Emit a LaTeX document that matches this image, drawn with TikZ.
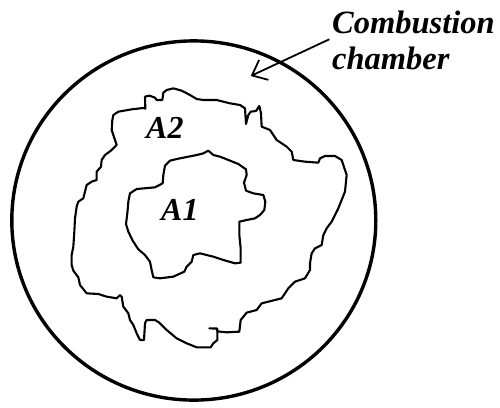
\documentclass[tikz,border=0pt]{standalone}
\usepackage{fontspec}
\setmainfont{Liberation Serif}
\usetikzlibrary{arrows.meta}
\tikzset{
  chamberline/.style={line width=3.4pt},
  flameline/.style={line width=2.1pt, line join=round, line cap=round},
  pointer/.style={line width=1.8pt, -{Straight Barb[length=13pt,width=22pt,line width=1.8pt]}},
  labeltext/.style={inner sep=0pt, font=\fontsize{32.5}{36}\selectfont\bfseries\itshape},
  areatext/.style={inner sep=0pt, font=\fontsize{32}{36}\selectfont\bfseries\itshape}
}
\begin{document}
\begin{tikzpicture}[x=1pt,y=-1pt]
\useasboundingbox (0,0) rectangle (500,407);
% combustion chamber wall
\draw[chamberline] (193.8,220.5) ellipse [x radius=182, y radius=179.6];
% flame fronts (traced in 3x coordinates)
\begin{scope}[x=0.33333pt,y=-0.33333pt]
\draw[flameline] (340,345) -- (355,335) -- (395,328) -- (430,324) -- (436,326) -- (435,290) -- (448,287) -- (465,293) -- (470,300) -- (487,300) -- (490,278) -- (500,270) -- (520,265) -- (545,272) -- (570,285) -- (590,297) -- (610,300) -- (650,300) -- (690,310) -- (720,315) -- (735,325) -- (738,372) -- (745,345) -- (752,335) -- (768,333) -- (778,318) -- (783,340) -- (785,380) -- (810,390) -- (830,420) -- (860,440) -- (875,455) -- (880,480) -- (915,485) -- (955,488) -- (960,475) -- (975,468) -- (1005,468) -- (1025,480) -- (1040,525) -- (1035,575) -- (1015,625) -- (995,665) -- (980,685) -- (970,705) -- (965,735) -- (945,745) -- (935,760) -- (930,790) -- (930,810) -- (915,835) -- (885,845) -- (865,865) -- (845,895) -- (825,900) -- (785,910) -- (770,930) -- (740,938) -- (722,960) -- (718,995) -- (680,997) -- (652,994) -- (650,985) -- (628,985) -- (652,986) -- (652,1020) -- (640,1030) -- (632,1042) -- (590,1042) -- (560,1030) -- (530,1015) -- (500,990) -- (478,968) -- (465,960) -- (440,960) -- (435,970) -- (432,1020) -- (420,1020) -- (410,1000) -- (400,975) -- (390,960) -- (385,940) -- (370,920) -- (365,890) -- (360,885) -- (350,895) -- (320,890) -- (295,882) -- (260,880) -- (240,855) -- (235,832) -- (220,812) -- (215,795) -- (215,765) -- (220,740) -- (223,695) -- (225,655) -- (230,620) -- (235,605) -- (250,595) -- (255,575) -- (260,555) -- (275,545) -- (290,540) -- (290,515) -- (303,500) -- (305,480) -- (315,465) -- (335,450) -- (350,435) -- (345,420) -- (335,390) -- (337,360) -- cycle;
\draw[flameline] (625,452) -- (640,465) -- (660,470) -- (690,482) -- (715,492) -- (738,508) -- (740,525) -- (732,548) -- (738,572) -- (760,580) -- (790,585) -- (796,605) -- (793,630) -- (780,645) -- (765,655) -- (740,660) -- (718,665) -- (718,705) -- (722,745) -- (722,788) -- (705,790) -- (670,780) -- (640,770) -- (600,760) -- (580,765) -- (575,785) -- (560,800) -- (553,815) -- (535,823) -- (520,830) -- (480,835) -- (460,832) -- (455,810) -- (450,785) -- (435,765) -- (415,748) -- (398,722) -- (385,695) -- (378,672) -- (382,640) -- (385,605) -- (390,580) -- (410,567) -- (465,562) -- (488,550) -- (490,525) -- (495,497) -- (510,482) -- (535,476) -- (560,471) -- (590,465) -- (610,460) -- cycle;
\end{scope}
% labels
\node[areatext, anchor=base west] (a2) at (146,138.3) {A2};
\node[areatext, anchor=base west] (a1) at (161,220.7) {A1};
\node[labeltext, anchor=base west] (comb) at (332,33.3) {Combustion};
\node[labeltext, anchor=base west] (chamb) at (332,69.3) {chamber};
\coordinate (ptrstart) at (329.3,39.3);
\coordinate (ptrend) at (250.7,76);
\draw[pointer] (ptrstart) -- (ptrend);
\end{tikzpicture}
\end{document}
